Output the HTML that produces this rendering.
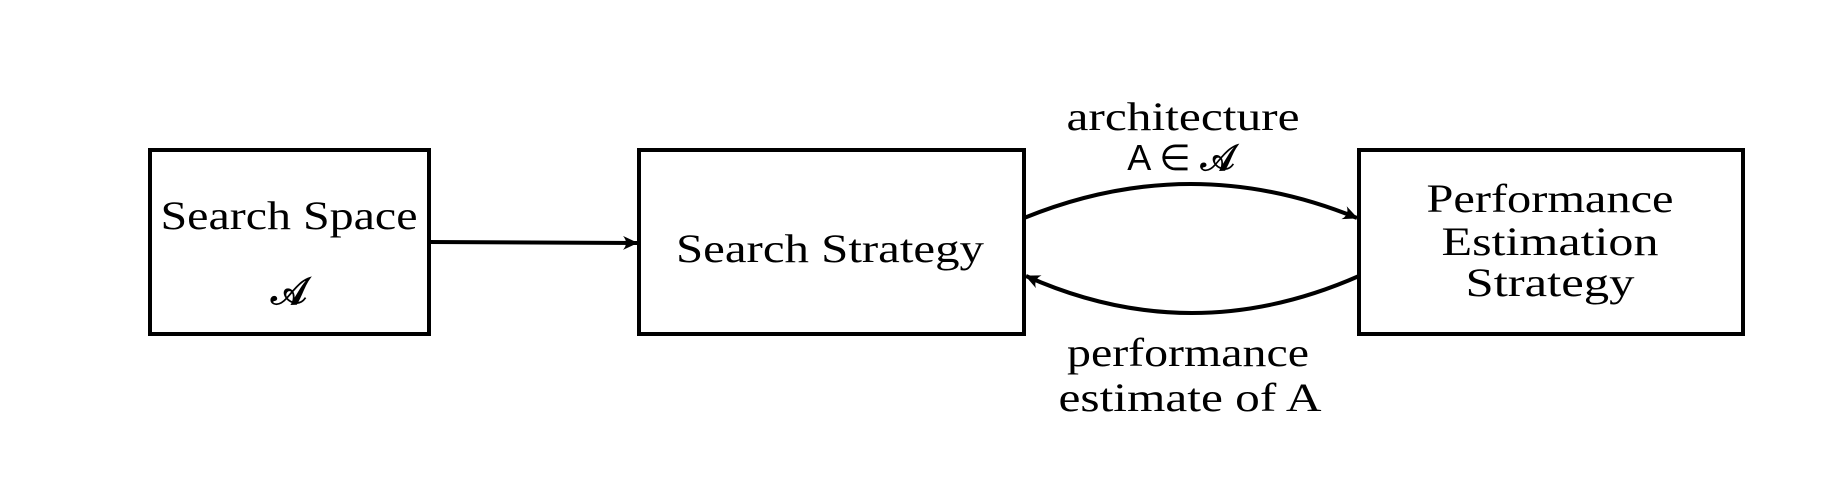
<!DOCTYPE html>
<html><head><style>html,body{margin:0;padding:0;background:#fff}</style></head>
<body>
<svg width="1825" height="481" viewBox="0 0 1825 481" xmlns="http://www.w3.org/2000/svg">
<defs>
<marker id="ah" markerWidth="16" markerHeight="14" refX="14" refY="7" orient="auto" markerUnits="userSpaceOnUse">
<path d="M0,0 Q6,7 0,14 L15,7 Z" fill="#000"/>
</marker>
</defs>
<rect width="1825" height="481" fill="#fff"/>
<g fill="none" stroke="#000" stroke-width="4">
<rect x="150" y="150" width="279" height="184"/>
<rect x="639" y="150" width="385" height="184"/>
<rect x="1359" y="150" width="384" height="184"/>
<line x1="429" y1="242" x2="637" y2="243" marker-end="url(#ah)"/>
<path d="M1024,218 Q1191,150 1357,218" marker-end="url(#ah)"/>
<path d="M1359,276 Q1191,350 1026,276" marker-end="url(#ah)"/>
</g>
<g font-family="Liberation Serif, serif" font-size="40" fill="#000" text-anchor="middle">
<text x="289" y="229" textLength="257" lengthAdjust="spacingAndGlyphs">Search Space</text>
<text x="289" y="304" font-family="DejaVu Serif, serif" font-size="38" font-weight="bold">𝒜</text>
<text x="830" y="262" textLength="308" lengthAdjust="spacingAndGlyphs">Search Strategy</text>
<text x="1550" y="212" textLength="247" lengthAdjust="spacingAndGlyphs">Performance</text>
<text x="1550" y="255" textLength="217" lengthAdjust="spacingAndGlyphs">Estimation</text>
<text x="1550" y="296" textLength="169" lengthAdjust="spacingAndGlyphs">Strategy</text>
<text x="1183" y="130" textLength="233" lengthAdjust="spacingAndGlyphs">architecture</text>
<text x="1181" y="170" font-family="Liberation Sans, sans-serif" font-size="36">A ∈ <tspan font-family="DejaVu Serif, serif" font-weight="bold">𝒜</tspan></text>
<text x="1188" y="366" textLength="242" lengthAdjust="spacingAndGlyphs">performance</text>
<text x="1190" y="411" textLength="263" lengthAdjust="spacingAndGlyphs">estimate of A</text>
</g>
</svg>
</body></html>
